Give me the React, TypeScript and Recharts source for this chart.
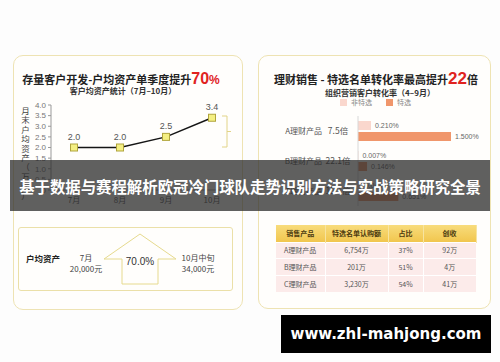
import React from 'react';
import {
  LineChart,
  Line,
  XAxis,
  YAxis,
  LabelList,
  BarChart,
  Bar,
} from 'recharts';

// left chart: average assets per customer (万元)
const months = ['7月', '8月', '9月', '10月'];
const avgAsset = [2.0, 2.0, 2.5, 3.4];
const assetTicks = [0, 0.5, 1, 1.5, 2, 2.5, 3, 3.5, 4];

// right chart: conversion rate (%)
const products = ['A理财产品', 'B理财产品', 'C理财产品'];
const multiples = ['7.5倍', '22.1倍', '15.1倍'];
const nonSelected = [0.21, 0.007, 0.043];
const selected = [1.5, 0.146, 0.651];

// table under the bar chart
const tableHead = ['销售产品', '特选名单认购额', '占比', '创收'];
const subscribed = ['6,754万', '201万', '3,230万'];
const shares = ['37%', '51%', '54%'];
const revenue = ['92万', '4万', '41万'];

const cjk = "'Noto Sans CJK SC', sans-serif";
const num = "'Liberation Sans', 'Noto Sans CJK SC', sans-serif";

const lineData = months.map((m, i) => ({ month: m, value: avgAsset[i] }));
const barData = products.map((p, i) => ({
  name: p,
  multiple: multiples[i],
  nonSelected: nonSelected[i],
  selected: selected[i],
}));

const panelStyle: React.CSSProperties = {
  position: 'absolute',
  border: '1px solid #eee3b3',
  borderRadius: 10,
  background: '#fffefc',
};

const SquareDot = (props: any) => {
  const { cx, cy, index } = props;
  return (
    <rect
      key={`dot-${index}`}
      x={cx - 3.5}
      y={cy - 3.5}
      width={7}
      height={7}
      fill="#f4ef82"
      stroke="#b0a43c"
      strokeWidth={1}
    />
  );
};

const ProductTick = (props: any) => {
  const { x, y, payload, index } = props;
  return (
    <g>
      <text x={x - 36} y={y} dy={3} textAnchor="end" fontSize={8} fill="#555" fontFamily={cjk}>
        {payload.value}
      </text>
      <text x={x - 20} y={y} dy={3} textAnchor="middle" fontSize={8.5} fill="#555" fontFamily={cjk}>
        {multiples[index]}
      </text>
    </g>
  );
};

const yLabel = '月末户均资产（万元）'.split('');

export default function App() {
  return (
    <div
      style={{
        position: 'absolute',
        left: 0,
        top: 0,
        width: 500,
        height: 362,
        background: '#fdfdfd',
        overflow: 'hidden',
        fontFamily: cjk,
      }}
    >
      {/* panels */}
      <div style={{ ...panelStyle, left: 13, top: 55, width: 228, height: 253 }} />
      <div style={{ ...panelStyle, left: 258, top: 55, width: 231, height: 252 }} />

      {/* left titles */}
      <div
        style={{
          position: 'absolute', left: 13, top: 70, width: 216, textAlign: 'center',
          fontSize: 11, fontWeight: 700, color: '#222', lineHeight: '18px', whiteSpace: 'nowrap',
        }}
      >
        存量客户开发-户均资产单季度提升
        <span style={{ color: '#e0231f', fontSize: 16, fontFamily: num }}>70</span>
        <span style={{ color: '#e0231f', fontSize: 12, fontFamily: num }}>%</span>
      </div>
      <div
        style={{
          position: 'absolute', left: 13, top: 85, width: 220, textAlign: 'center',
          fontSize: 8, fontWeight: 700, color: '#333', whiteSpace: 'nowrap',
        }}
      >
        客户均资产统计（7月–10月）
      </div>
      <div style={{ position: 'absolute', left: 20, top: 106, width: 11, display: 'flex', flexDirection: 'column', alignItems: 'center' }}>
        {yLabel.map((c, i) => (
          <div key={i} style={{ fontSize: 8.5, lineHeight: '9.4px', height: 9.4, color: '#444' }}>{c}</div>
        ))}
      </div>

      {/* left line chart */}
      <div style={{ position: 'absolute', left: 0, top: 0 }}>
        <LineChart width={250} height={220} data={lineData} margin={{ top: 105, right: 15, bottom: 10, left: 21 }}>
          <XAxis
            dataKey="month"
            padding={{ left: 23, right: 23 }}
            tickLine={false}
            axisLine={{ stroke: '#999' }}
            tick={{ fontSize: 8, fill: '#555', fontFamily: cjk }}
            height={20}
            tickMargin={1}
          />
          <YAxis
            domain={[0, 4]}
            ticks={assetTicks}
            interval={0}
            width={30}
            tickSize={3}
            tickMargin={2}
            axisLine={{ stroke: '#999' }}
            tickLine={{ stroke: '#999' }}
            tickFormatter={(v: number) => (v === 0 ? '0' : v.toFixed(1))}
            tick={{ fontSize: 8, fill: '#777', fontFamily: num }}
          />
          <Line
            dataKey="value"
            stroke="#151515"
            strokeWidth={1.5}
            dot={<SquareDot />}
            isAnimationActive={false}
          >
            <LabelList
              dataKey="value"
              position="top"
              offset={8}
              formatter={(v: number) => v.toFixed(1)}
              style={{ fontSize: 9, fill: '#555', fontFamily: num }}
            />
          </Line>
        </LineChart>
      </div>
      <svg style={{ position: 'absolute', left: 0, top: 0 }} width={250} height={200}>
        <path d="M222 116 H227 V147 H222 M227 131.5 H231" fill="none" stroke="#e2d488" strokeWidth={1} />
      </svg>

      {/* left summary box */}
      <div style={{ position: 'absolute', left: 18, top: 227, width: 213, height: 62, border: '1px solid #ebe0a8', borderRadius: 3 }} />
      <div style={{ position: 'absolute', left: 26, top: 252, fontSize: 8.5, fontWeight: 700, color: '#222' }}>户均资产</div>
      <div style={{ position: 'absolute', left: 58, top: 252, width: 56, textAlign: 'center', fontSize: 8, color: '#444', lineHeight: '11px' }}>
        7月<br />20,000元
      </div>
      <svg style={{ position: 'absolute', left: 0, top: 0 }} width={250} height={300}>
        <path d="M140 234 L176 259 L158 259 L158 284 L122 284 L122 259 L104 259 Z" fill="#fffefc" stroke="#e6da8e" strokeWidth={1} />
      </svg>
      <div style={{ position: 'absolute', left: 110, top: 256, width: 60, textAlign: 'center', fontSize: 10, color: '#333', fontFamily: num }}>70.0%</div>
      <div style={{ position: 'absolute', left: 170, top: 252, width: 56, textAlign: 'center', fontSize: 8, color: '#444', lineHeight: '11px' }}>
        10月中旬<br />34,000元
      </div>

      {/* right titles */}
      <div
        style={{
          position: 'absolute', left: 258, top: 70, width: 240, textAlign: 'center',
          fontSize: 11, fontWeight: 700, color: '#222', lineHeight: '18px', whiteSpace: 'nowrap',
          marginLeft: -2,
        }}
      >
        理财销售 - 特选名单转化率最高提升
        <span style={{ color: '#e0231f', fontSize: 17, fontFamily: num }}>22</span>倍
      </div>
      <div
        style={{
          position: 'absolute', left: 300, top: 87, width: 160, textAlign: 'center',
          fontSize: 8, fontWeight: 700, color: '#333', whiteSpace: 'nowrap',
        }}
      >
        组织营销客户转化率（4–9月）
      </div>
      <div style={{ position: 'absolute', left: 340, top: 97, display: 'flex', alignItems: 'center', fontSize: 7, color: '#888' }}>
        <span style={{ width: 7, height: 7, background: '#fad7cd', marginRight: 4 }} />
        <span style={{ marginRight: 14 }}>非特选</span>
        <span style={{ width: 7, height: 7, background: '#f0966b', marginRight: 4 }} />
        <span>特选</span>
      </div>

      {/* right bar chart */}
      <div style={{ position: 'absolute', left: 0, top: 0 }}>
        <BarChart
          width={500}
          height={240}
          layout="vertical"
          data={barData}
          margin={{ top: 116, right: 18, bottom: 34, left: 250 }}
          barSize={9}
          barGap={2}
        >
          <XAxis type="number" domain={[0, 2]} hide />
          <YAxis
            type="category"
            dataKey="name"
            width={108}
            tickSize={0}
            tickMargin={0}
            tickLine={false}
            axisLine={{ stroke: '#d8d8d8' }}
            tick={<ProductTick />}
          />
          <Bar dataKey="nonSelected" fill="#fad7cd" isAnimationActive={false}>
            <LabelList
              dataKey="nonSelected"
              position="right"
              offset={4}
              formatter={(v: number) => `${v.toFixed(3)}%`}
              style={{ fontSize: 7, fill: '#666', fontFamily: num }}
            />
          </Bar>
          <Bar dataKey="selected" fill="#f0966b" isAnimationActive={false}>
            <LabelList
              dataKey="selected"
              position="right"
              offset={4}
              formatter={(v: number) => `${v.toFixed(3)}%`}
              style={{ fontSize: 7, fill: '#666', fontFamily: num }}
            />
          </Bar>
        </BarChart>
      </div>

      {/* table */}
      <table
        style={{
          position: 'absolute', left: 276, top: 225, width: 200, borderCollapse: 'collapse',
          fontSize: 7, color: '#555', tableLayout: 'fixed',
        }}
      >
        <colgroup>
          <col style={{ width: 49 }} />
          <col style={{ width: 63 }} />
          <col style={{ width: 35 }} />
          <col style={{ width: 53 }} />
        </colgroup>
        <thead>
          <tr style={{ height: 17, background: 'linear-gradient(#f8dc7c, #f1c64e)' }}>
            {tableHead.map((h) => (
              <th key={h} style={{ fontWeight: 700, color: '#4d3b10', padding: 0, borderRight: '1px solid #f7e4a0' }}>{h}</th>
            ))}
          </tr>
        </thead>
        <tbody>
          {products.map((p, i) => (
            <tr key={p} style={{ height: 16.7, background: '#fcebea', borderTop: '1px solid #fff' }}>
              <td style={{ textAlign: 'center', padding: 0, borderRight: '1px solid #fff' }}>{p}</td>
              <td style={{ textAlign: 'center', padding: 0, borderRight: '1px solid #fff' }}>{subscribed[i]}</td>
              <td style={{ textAlign: 'center', padding: 0, borderRight: '1px solid #fff' }}>{shares[i]}</td>
              <td style={{ textAlign: 'center', padding: 0 }}>{revenue[i]}</td>
            </tr>
          ))}
        </tbody>
      </table>

      {/* banner overlay */}
      <div
        style={{
          position: 'absolute', left: 10, top: 160, width: 480, height: 51,
          background: 'rgba(40,40,40,0.74)', display: 'flex', alignItems: 'center', justifyContent: 'center',
          color: '#fff', fontSize: 15.4, fontWeight: 700, whiteSpace: 'nowrap',
        }}
      >
        基于数据与赛程解析欧冠冷门球队走势识别方法与实战策略研究全景
      </div>

      {/* watermark */}
      <div
        style={{
          position: 'absolute', left: 281, top: 315, width: 210, height: 38, background: '#000',
          display: 'flex', alignItems: 'center', justifyContent: 'center',
          color: '#fff', fontSize: 15, fontWeight: 700, fontFamily: "'DejaVu Sans', sans-serif",
        }}
      >
        www.zhl-mahjong.com
      </div>
    </div>
  );
}
